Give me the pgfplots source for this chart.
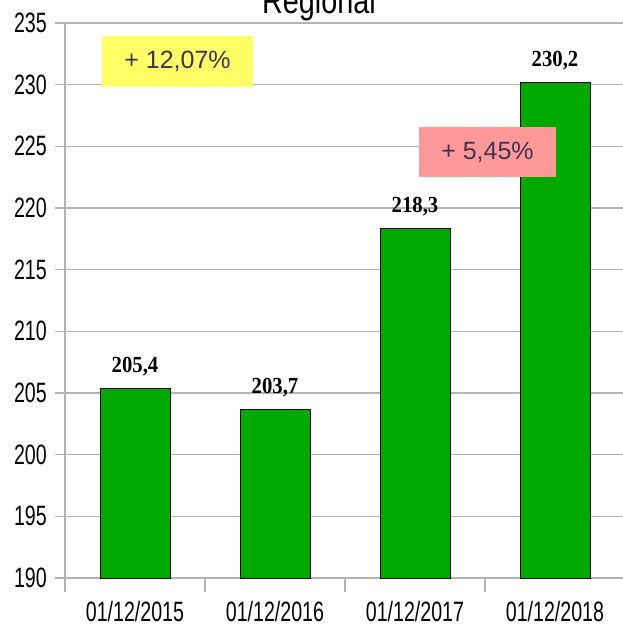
\documentclass[border=0pt]{standalone}
\usepackage{fontspec}
\setmainfont{Liberation Sans}
\newfontfamily\narrowfont[FakeStretch=0.7]{Liberation Sans}
\newfontfamily\titlefont[FakeStretch=0.8]{Liberation Sans}
\newfontfamily\valuefont[FakeStretch=0.9]{Liberation Serif}
\usepackage{pgfplots}
\pgfplotsset{compat=1.18}

\definecolor{bargreen}{RGB}{0,170,0}
\definecolor{gridgray}{RGB}{179,179,179}
\definecolor{notetext}{RGB}{62,51,85}
\definecolor{noteyellow}{RGB}{255,255,102}
\definecolor{notepink}{RGB}{255,153,153}

\begin{document}
\begin{tikzpicture}
  \useasboundingbox (0,0) rectangle (623pt,630pt);
  \begin{axis}[
      at={(65pt,52pt)}, anchor=south west,
      scale only axis, width=560pt, height=555pt,
      xmin=-0.5, xmax=3.5, ymin=190, ymax=235,
      ybar, bar width=70pt,
      axis lines*=left,
      axis line style={gridgray, line width=1.2pt},
      ymajorgrids,
      grid style={gridgray, line width=1.2pt},
      ytick={190,195,...,235},
      xtick={0,1,2,3},
      xticklabels={01/12/2015, 01/12/2016, 01/12/2017, 01/12/2018},
      minor xtick={-0.5,0.5,1.5,2.5,3.5},
      tick align=outside,
      major tick length=10pt, minor tick length=14pt,
      tick style={gridgray, line width=1.2pt},
      major x tick style={draw=none},
      /pgf/number format/assume math mode=true,
      /pgf/number format/use comma,
      /pgf/number format/1000 sep={},
      tick label style={font=\narrowfont\fontsize{28}{28}\selectfont, inner sep=0pt},
      xticklabel style={anchor=base, yshift=-33pt},
      yticklabel style={anchor=east, xshift=-8pt},
      nodes near coords={\pgfmathprintnumber[fixed, fixed zerofill, precision=1, use comma]{\pgfplotspointmeta}},
      every node near coord/.append style={font=\valuefont\bfseries\fontsize{23}{23}\selectfont,
        anchor=base, yshift=16pt, inner sep=0pt, black},
    ]
    \addplot[fill=bargreen, draw=black, line width=1pt] coordinates {
      (0,205.4) (1,203.7) (2,218.3) (3,230.2)
    };
  \end{axis}
  \node[anchor=base, font=\titlefont\fontsize{36}{36}\selectfont] at (319pt,616pt) {Regional};
  \node[fill=noteyellow, text=notetext, minimum width=151pt, minimum height=51pt, inner sep=0pt,
        font=\fontsize{25}{25}\selectfont] at (177.5pt,568.5pt) {+ 12,07\%};
  \node[fill=notepink, text=notetext, minimum width=137pt, minimum height=50pt, inner sep=0pt,
        font=\fontsize{25}{25}\selectfont] at (487.5pt,478pt) {+ 5,45\%};
\end{tikzpicture}
\end{document}
